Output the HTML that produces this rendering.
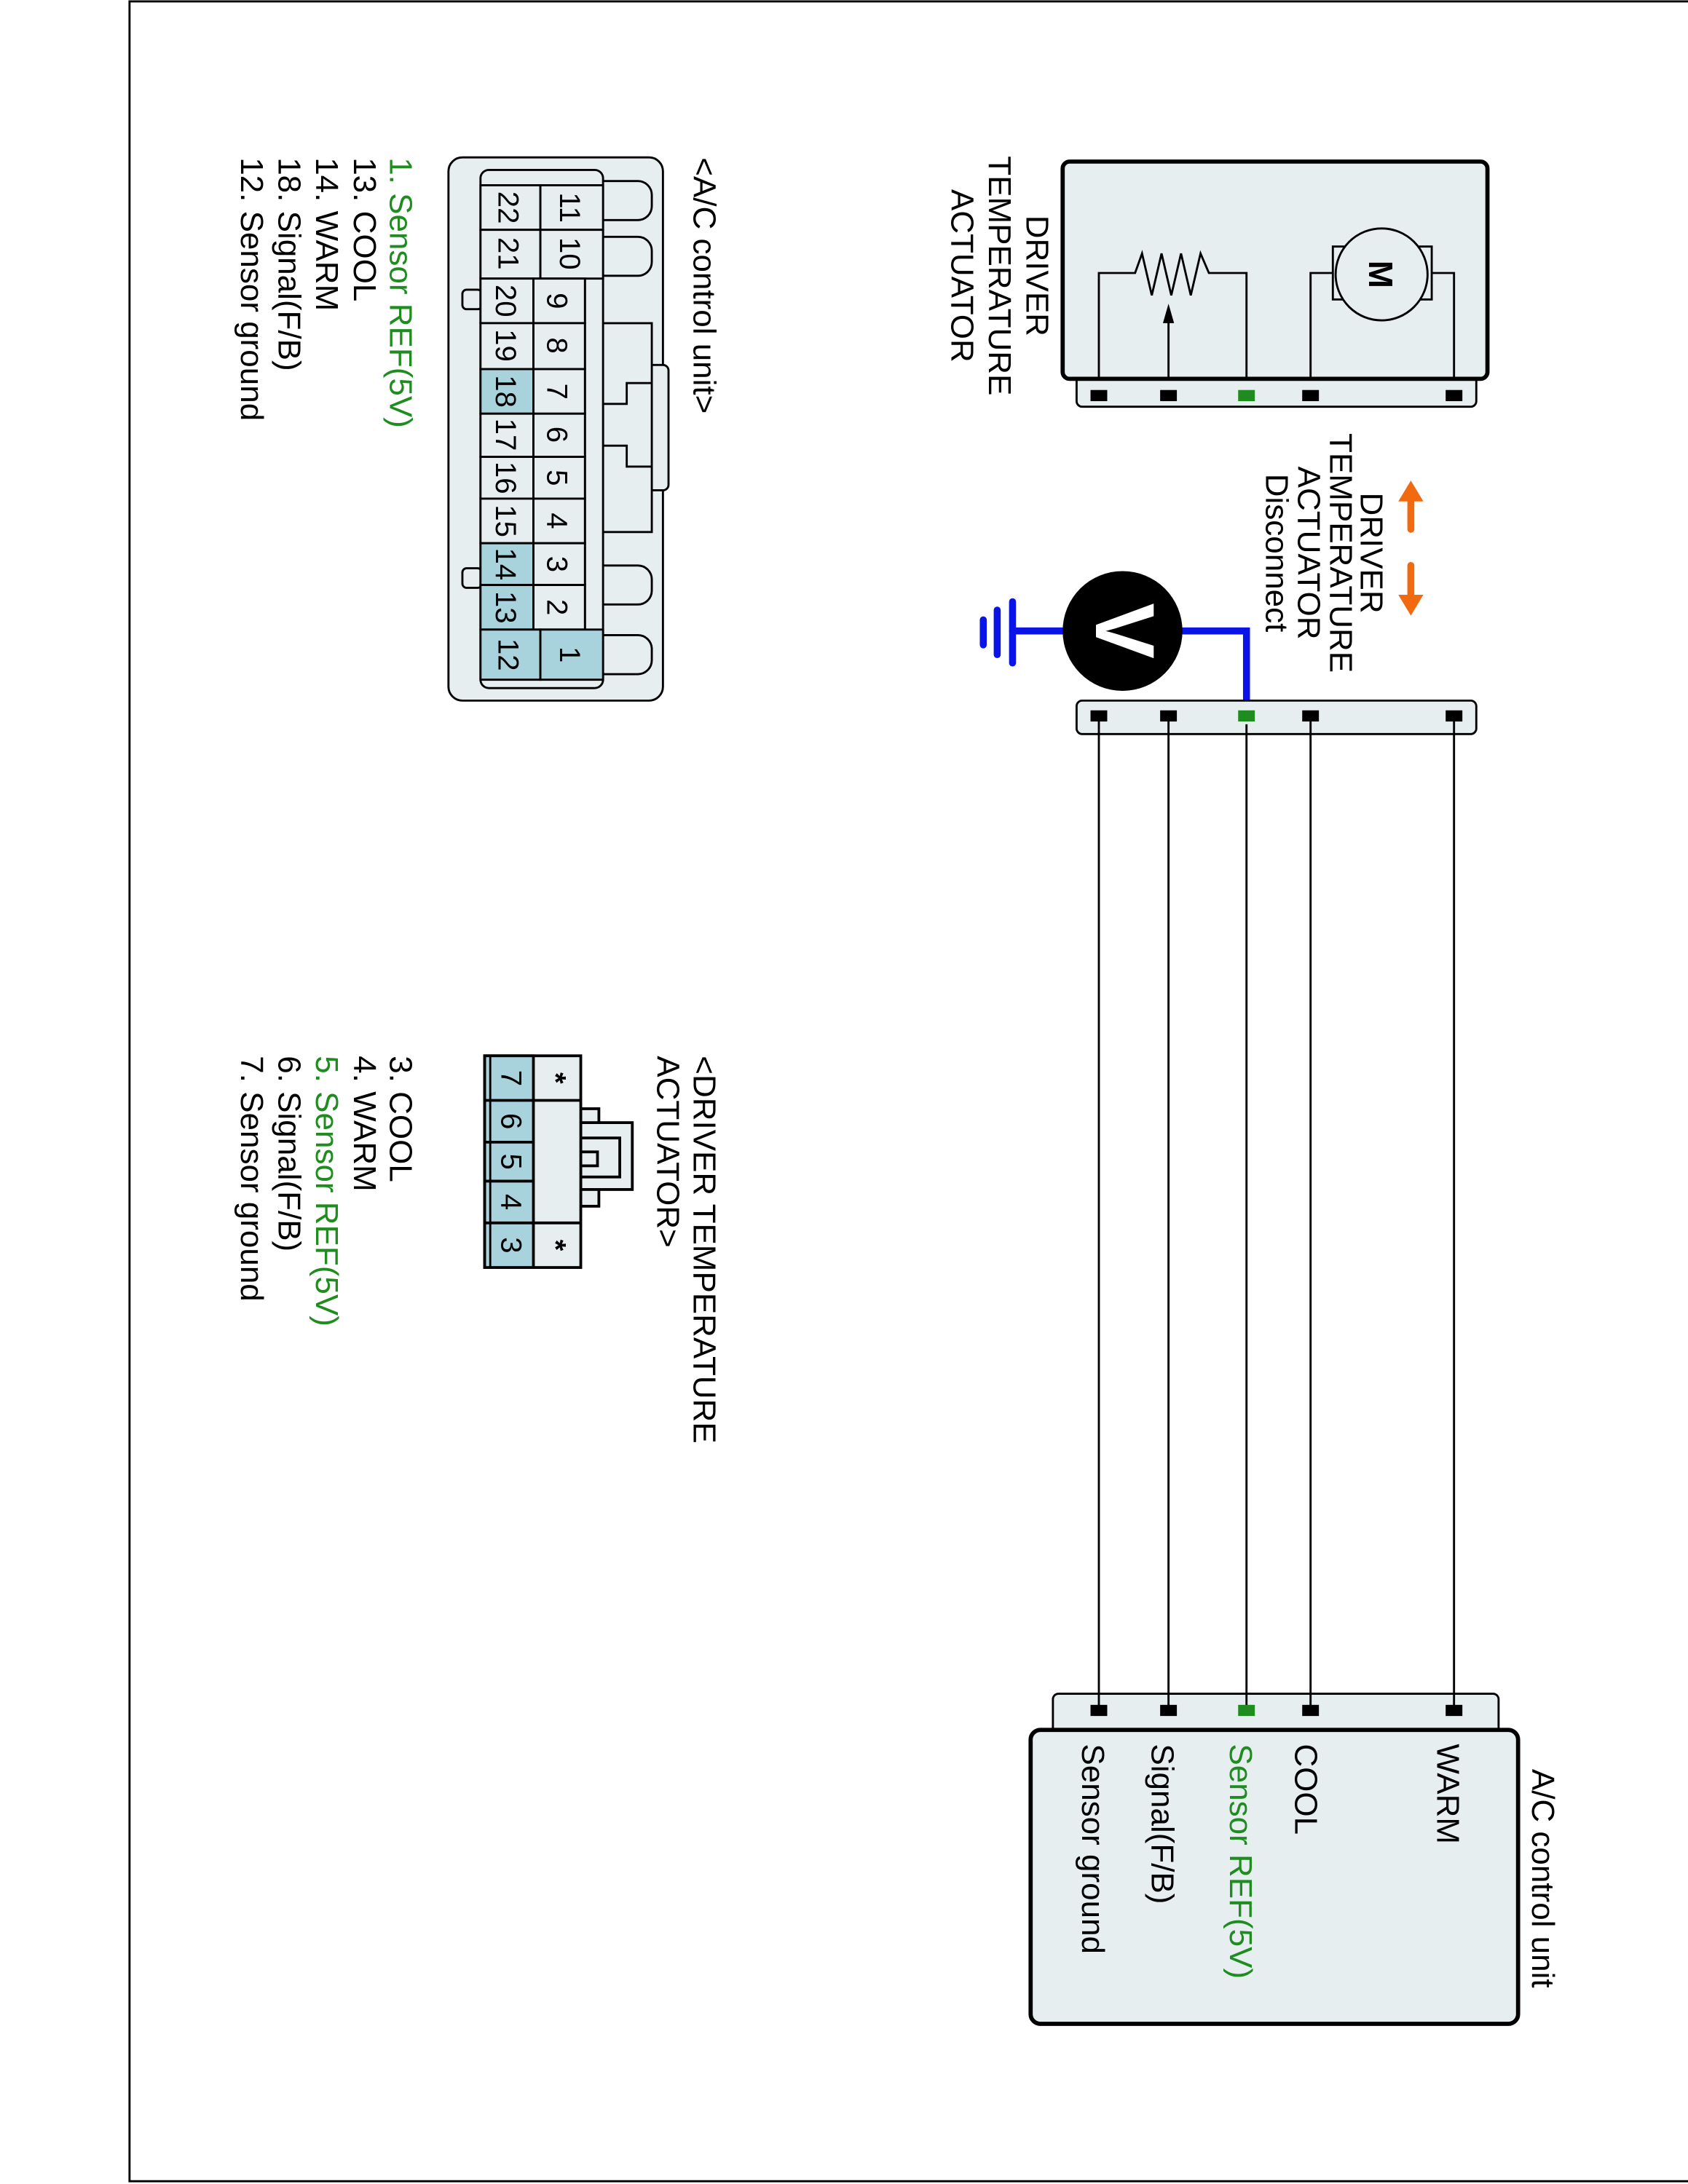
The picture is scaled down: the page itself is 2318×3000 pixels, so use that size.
<!DOCTYPE html>
<html><head><meta charset="utf-8"><style>
html,body{margin:0;padding:0;background:#fff}
svg{display:block}
text{font-family:"Liberation Sans",Arial,sans-serif;fill:#000}
.g{fill:#1e8c1e}
</style></head><body>
<svg width="2318" height="3000" viewBox="0 0 1212 1568" preserveAspectRatio="none" xmlns="http://www.w3.org/2000/svg">
<rect x="93" y="1" width="1130" height="1565" fill="none" stroke="#000" stroke-width="1.5"/>

<!-- Actuator box -->
<rect x="773" y="268" width="287" height="24" rx="4" fill="#e6eef0" stroke="#000" stroke-width="1.5"/>
<rect x="763" y="116" width="305" height="156" rx="5" fill="#e6eef0" stroke="#000" stroke-width="3"/>
<g fill="none" stroke="#000" stroke-width="1.5">
<polyline points="789,272 789,196 815,196 820,182 827,212 834,182 841,212 848,182 855,212 862,182 868,196 895,196 895,272"/>
<line x1="839" y1="272" x2="839" y2="230"/>
<polyline points="941,272 941,196 957,196"/>
<polyline points="1044,272 1044,196 1028,196"/>
<rect x="957" y="177" width="71" height="38" fill="#e6eef0"/>
<circle cx="992" cy="197" r="33" fill="#e6eef0"/>
</g>
<polygon points="839,218 835,232 843,232" fill="#000"/>
<text transform="translate(983,197) rotate(90)" font-size="24" font-weight="bold" text-anchor="middle">M</text>
<g fill="#000"><rect x="783" y="280" width="12" height="8"/><rect x="833" y="280" width="12" height="8"/><rect x="935" y="280" width="12" height="8"/><rect x="1038" y="280" width="12" height="8"/></g>
<rect x="889" y="280" width="12" height="8" fill="#1e8c1e"/>

<g font-size="23" text-anchor="middle">
<text transform="translate(737,198) rotate(90)">DRIVER</text>
<text transform="translate(710,198) rotate(90)">TEMPERATURE</text>
<text transform="translate(683,198) rotate(90)">ACTUATOR</text>
<text transform="translate(977,397) rotate(90)">DRIVER</text>
<text transform="translate(955,397) rotate(90)">TEMPERATURE</text>
<text transform="translate(932,397) rotate(90)">ACTUATOR</text>
<text transform="translate(909,397) rotate(90)">Disconnect</text>
</g>
<g stroke="#f26a10" stroke-width="5" stroke-linecap="round"><line x1="1013" y1="358" x2="1013" y2="380"/><line x1="1013" y1="406" x2="1013" y2="428"/></g>
<g fill="#f26a10"><polygon points="1013,345 1004,360 1022,360"/><polygon points="1013,442 1004,427 1022,427"/></g>

<!-- voltmeter -->
<g stroke="#0a14e6" stroke-width="5" fill="none" stroke-linecap="round">
<polyline points="845,453 895,453 895,514"/>
<line x1="727" y1="453" x2="770" y2="453"/>
<line x1="727" y1="432" x2="727" y2="476"/>
<line x1="716" y1="438" x2="716" y2="470"/>
<line x1="706" y1="445" x2="706" y2="463"/>
</g>
<circle cx="806" cy="453" r="43" fill="#000"/>
<text transform="translate(787,453) rotate(90)" font-size="60" font-weight="bold" text-anchor="middle" style="fill:#fff">V</text>

<!-- lower connector & wires -->
<rect x="773" y="503" width="287" height="24" rx="4" fill="#e6eef0" stroke="#000" stroke-width="1.5"/>
<rect x="756" y="1216" width="320" height="30" rx="4" fill="#e6eef0" stroke="#000" stroke-width="1.5"/>
<rect x="740" y="1242" width="350" height="211" rx="7" fill="#e6eef0" stroke="#000" stroke-width="3"/>
<g stroke="#000" stroke-width="1.5">
<line x1="789" y1="514" x2="789" y2="1228"/><line x1="839" y1="514" x2="839" y2="1228"/><line x1="895" y1="520" x2="895" y2="1228"/><line x1="941" y1="514" x2="941" y2="1228"/><line x1="1044" y1="514" x2="1044" y2="1228"/>
</g>
<g fill="#000"><rect x="783" y="510" width="12" height="8"/><rect x="833" y="510" width="12" height="8"/><rect x="935" y="510" width="12" height="8"/><rect x="1038" y="510" width="12" height="8"/>
<rect x="783" y="1224" width="12" height="8"/><rect x="833" y="1224" width="12" height="8"/><rect x="935" y="1224" width="12" height="8"/><rect x="1038" y="1224" width="12" height="8"/></g>
<rect x="889" y="510" width="12" height="8" fill="#1e8c1e"/><rect x="889" y="1224" width="12" height="8" fill="#1e8c1e"/>
<g font-size="23">
<text transform="translate(1100,1270) rotate(90)">A/C control unit</text>
<text transform="translate(1032,1252) rotate(90)">WARM</text>
<text transform="translate(930,1252) rotate(90)">COOL</text>
<text class="g" transform="translate(883,1252) rotate(90)">Sensor REF(5V)</text>
<text transform="translate(827,1252) rotate(90)">Signal(F/B)</text>
<text transform="translate(777,1252) rotate(90)">Sensor ground</text>
</g>

<!-- A/C connector -->
<g stroke="#000" stroke-width="1.5" fill="#e6eef0">
<rect x="322" y="113" width="154" height="390" rx="10"/>
<path d="M433,130 H458 A10,10 0 0 1 468,140 V148 A10,10 0 0 1 458,158 H433" />
<path d="M433,170 H458 A10,10 0 0 1 468,180 V188 A10,10 0 0 1 458,198 H433" />
<path d="M433,406 H458 A10,10 0 0 1 468,416 V424 A10,10 0 0 1 458,434 H433" />
<path d="M433,456 H458 A10,10 0 0 1 468,466 V474 A10,10 0 0 1 458,484 H433" />
<rect x="462" y="262" width="18" height="90" rx="4"/>
<polyline points="433,232 468,232 468,382 433,382" fill="#e6eef0"/>
<polyline points="468,275 450,275 450,290 433,290 433,320 450,320 450,335 468,335" fill="none"/>
<rect x="332" y="208" width="14" height="14" rx="3"/>
<rect x="332" y="408" width="14" height="14" rx="3"/>
<rect x="345" y="122" width="88" height="372" rx="6"/>
<line x1="420" y1="200" x2="420" y2="452"/>
</g>
<g stroke="#000" stroke-width="1.5">
<rect x="345" y="133" width="43" height="32" fill="#e6eef0"/><rect x="388" y="133" width="45" height="32" fill="#e6eef0"/>
<rect x="345" y="165" width="43" height="35" fill="#e6eef0"/><rect x="388" y="165" width="45" height="35" fill="#e6eef0"/>
<rect x="345" y="200" width="38" height="32" fill="#e6eef0"/><rect x="383" y="200" width="37" height="32" fill="#e6eef0"/>
<rect x="345" y="232" width="38" height="33" fill="#e6eef0"/><rect x="383" y="232" width="37" height="33" fill="#e6eef0"/>
<rect x="345" y="265" width="38" height="32" fill="#a9d3dc"/><rect x="383" y="265" width="37" height="32" fill="#e6eef0"/>
<rect x="345" y="297" width="38" height="31" fill="#e6eef0"/><rect x="383" y="297" width="37" height="31" fill="#e6eef0"/>
<rect x="345" y="328" width="38" height="30" fill="#e6eef0"/><rect x="383" y="328" width="37" height="30" fill="#e6eef0"/>
<rect x="345" y="358" width="38" height="32" fill="#e6eef0"/><rect x="383" y="358" width="37" height="32" fill="#e6eef0"/>
<rect x="345" y="390" width="38" height="30" fill="#a9d3dc"/><rect x="383" y="390" width="37" height="30" fill="#e6eef0"/>
<rect x="345" y="420" width="38" height="32" fill="#a9d3dc"/><rect x="383" y="420" width="37" height="32" fill="#e6eef0"/>
<rect x="345" y="452" width="43" height="36" fill="#a9d3dc"/><rect x="388" y="452" width="45" height="36" fill="#a9d3dc"/>
</g>
<g font-size="21" text-anchor="middle">
<text transform="translate(358,149) rotate(90)">22</text><text transform="translate(402,149) rotate(90)">11</text>
<text transform="translate(358,182) rotate(90)">21</text><text transform="translate(402,182) rotate(90)">10</text>
<text transform="translate(356,216) rotate(90)">20</text><text transform="translate(393,216) rotate(90)">9</text>
<text transform="translate(356,248) rotate(90)">19</text><text transform="translate(393,248) rotate(90)">8</text>
<text transform="translate(356,281) rotate(90)">18</text><text transform="translate(393,281) rotate(90)">7</text>
<text transform="translate(356,312) rotate(90)">17</text><text transform="translate(393,312) rotate(90)">6</text>
<text transform="translate(356,343) rotate(90)">16</text><text transform="translate(393,343) rotate(90)">5</text>
<text transform="translate(356,374) rotate(90)">15</text><text transform="translate(393,374) rotate(90)">4</text>
<text transform="translate(356,405) rotate(90)">14</text><text transform="translate(393,405) rotate(90)">3</text>
<text transform="translate(356,436) rotate(90)">13</text><text transform="translate(393,436) rotate(90)">2</text>
<text transform="translate(358,470) rotate(90)">12</text><text transform="translate(402,470) rotate(90)">1</text>
</g>
<g font-size="23">
<text transform="translate(498,113) rotate(90)">&lt;A/C control unit&gt;</text>
<text class="g" transform="translate(280,113) rotate(90)">1. Sensor REF(5V)</text>
<text transform="translate(254,113) rotate(90)">13. COOL</text>
<text transform="translate(227,113) rotate(90)">14. WARM</text>
<text transform="translate(200,113) rotate(90)">18. Signal(F/B)</text>
<text transform="translate(173,113) rotate(90)">12. Sensor ground</text>
</g>

<!-- actuator connector -->
<g stroke="#000" stroke-width="2" fill="#e6eef0">
<rect x="417" y="796" width="13" height="70"/>
<rect x="417" y="806" width="37" height="48"/>
<rect x="417" y="817" width="28" height="28"/>
<rect x="417" y="827" width="12" height="10"/>
<rect x="348" y="758" width="69" height="152"/>
<rect x="348" y="758" width="35" height="152" fill="#a9d3dc"/>
<line x1="352" y1="758" x2="352" y2="910" stroke-width="1.5"/>
<line x1="383" y1="790" x2="417" y2="790"/><line x1="383" y1="878" x2="417" y2="878"/>
<line x1="348" y1="790" x2="383" y2="790"/><line x1="348" y1="820" x2="383" y2="820"/><line x1="348" y1="848" x2="383" y2="848"/><line x1="348" y1="878" x2="383" y2="878"/>
</g>
<g font-size="21" text-anchor="middle">
<text transform="translate(360,774) rotate(90)">7</text>
<text transform="translate(360,805) rotate(90)">6</text>
<text transform="translate(360,834) rotate(90)">5</text>
<text transform="translate(360,863) rotate(90)">4</text>
<text transform="translate(360,894) rotate(90)">3</text>
<text transform="translate(392,774) rotate(90)" font-weight="bold">*</text>
<text transform="translate(392,894) rotate(90)" font-weight="bold">*</text>
</g>
<g font-size="23">
<text transform="translate(498,758) rotate(90)">&lt;DRIVER TEMPERATURE</text>
<text transform="translate(472,758) rotate(90)">ACTUATOR&gt;</text>
<text transform="translate(280,758) rotate(90)">3. COOL</text>
<text transform="translate(254,758) rotate(90)">4. WARM</text>
<text class="g" transform="translate(227,758) rotate(90)">5. Sensor REF(5V)</text>
<text transform="translate(200,758) rotate(90)">6. Signal(F/B)</text>
<text transform="translate(173,758) rotate(90)">7. Sensor ground</text>
</g>
</svg>
</body></html>
